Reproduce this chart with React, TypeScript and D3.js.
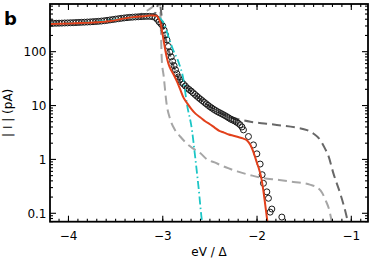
import React from "react";
import * as d3 from "d3";

// measured current (circles)
const measured: [number, number][] = [
  [-4.19, 335], [-4.16, 336], [-4.13, 337], [-4.10, 338], [-4.07, 339], [-4.04, 341],
  [-4.01, 342], [-3.98, 344], [-3.95, 345], [-3.92, 347], [-3.89, 349], [-3.86, 351],
  [-3.83, 353], [-3.80, 355], [-3.77, 357], [-3.74, 360], [-3.71, 363], [-3.68, 366],
  [-3.65, 370], [-3.62, 375], [-3.59, 381], [-3.56, 388], [-3.53, 395], [-3.50, 402],
  [-3.47, 409], [-3.44, 416], [-3.41, 422], [-3.38, 428], [-3.35, 433], [-3.32, 437],
  [-3.29, 441], [-3.26, 444], [-3.23, 447], [-3.20, 450], [-3.17, 452], [-3.14, 452],
  [-3.11, 447], [-3.08, 432], [-3.06, 400], [-3.04, 360], [-3.02, 330], [-3.00, 300],
  [-2.985, 250], [-2.97, 205], [-2.955, 165], [-2.94, 125], [-2.925, 98], [-2.91, 80],
  [-2.895, 66], [-2.88, 55], [-2.865, 46], [-2.85, 39], [-2.835, 34], [-2.82, 30],
  [-2.80, 27], [-2.78, 25], [-2.76, 23], [-2.74, 21], [-2.72, 19.8], [-2.70, 18.6],
  [-2.68, 17.3], [-2.66, 16.1], [-2.64, 15.0], [-2.62, 14.0], [-2.60, 13.1], [-2.58, 12.3],
  [-2.56, 11.5], [-2.54, 10.8], [-2.52, 10.1], [-2.50, 9.5], [-2.48, 9.0], [-2.46, 8.5],
  [-2.44, 8.1], [-2.42, 7.7], [-2.40, 7.4], [-2.38, 7.1], [-2.36, 6.8], [-2.34, 6.5],
  [-2.32, 6.2], [-2.30, 5.9], [-2.28, 5.6], [-2.26, 5.4], [-2.24, 5.2], [-2.22, 4.95],
  [-2.20, 4.7], [-2.18, 4.4], [-2.16, 4.0], [-2.144, 3.53], [-2.091, 2.66], [-2.038, 1.86],
  [-2.002, 1.27], [-1.967, 0.82], [-1.946, 0.52], [-1.932, 0.36], [-1.896, 0.25],
  [-1.879, 0.19], [-1.843, 0.12], [-1.861, 0.105], [-1.737, 0.085],
];

// full model (red)
const fitRed: [number, number][] = [
  [-4.19, 325], [-4.0, 333], [-3.8, 345], [-3.6, 362], [-3.5, 385], [-3.4, 415],
  [-3.3, 440], [-3.2, 455], [-3.12, 468], [-3.07, 465], [-3.04, 400], [-3.02, 320],
  [-3.0, 200], [-2.98, 125], [-2.96, 82], [-2.94, 60], [-2.91, 45], [-2.88, 36],
  [-2.85, 28], [-2.82, 21], [-2.78, 14], [-2.74, 11], [-2.70, 8.8], [-2.65, 7.0],
  [-2.60, 6.0], [-2.55, 5.1], [-2.50, 4.5], [-2.45, 3.9], [-2.40, 3.4], [-2.35, 3.15],
  [-2.30, 2.9], [-2.25, 2.75], [-2.20, 2.6], [-2.15, 2.45], [-2.10, 2.2], [-2.07, 1.85],
  [-2.04, 1.4], [-2.02, 1.1], [-2.0, 0.85], [-1.98, 0.67], [-1.96, 0.5], [-1.94, 0.32],
  [-1.92, 0.18], [-1.90, 0.095], [-1.89, 0.07],
];

// dash-dot (cyan)
const fitCyan: [number, number][] = [
  [-4.19, 330], [-3.8, 348], [-3.5, 395], [-3.3, 435], [-3.15, 455], [-3.06, 450],
  [-3.02, 400], [-2.99, 340], [-2.94, 190], [-2.89, 108], [-2.83, 62], [-2.78, 30],
  [-2.745, 11], [-2.69, 3.5], [-2.656, 1.1], [-2.62, 0.3], [-2.585, 0.075], [-2.575, 0.06],
];

// dashed, dark grey
const fitDark: [number, number][] = [
  [-4.19, 332], [-3.8, 352], [-3.5, 398], [-3.3, 436], [-3.15, 455], [-3.08, 520],
  [-3.05, 760], [-3.035, 900], [-3.02, 600], [-3.0, 300], [-2.97, 180], [-2.93, 95],
  [-2.88, 50], [-2.82, 29], [-2.75, 22], [-2.65, 15.5], [-2.55, 11], [-2.45, 8.4],
  [-2.39, 7.3], [-2.3, 6.3], [-2.2, 5.6], [-2.07, 5.0], [-1.9, 4.6], [-1.79, 4.37],
  [-1.58, 3.9], [-1.47, 3.5], [-1.40, 3.0], [-1.33, 2.3], [-1.28, 1.6], [-1.24, 1.13],
  [-1.19, 0.55], [-1.12, 0.24], [-1.05, 0.087], [-1.03, 0.06],
];

// dashed, light grey
const fitLight: [number, number][] = [
  [-4.19, 330], [-3.6, 365], [-3.4, 420], [-3.3, 450], [-3.21, 520], [-3.15, 600],
  [-3.10, 700], [-3.06, 900], [-3.03, 800], [-3.01, 70], [-2.99, 35], [-2.96, 11],
  [-2.92, 5.5], [-2.87, 3.5], [-2.815, 2.66], [-2.75, 2.0], [-2.68, 1.6], [-2.6, 1.3],
  [-2.53, 1.0], [-2.45, 0.88], [-2.39, 0.79], [-2.3, 0.68], [-2.21, 0.6], [-2.05, 0.5],
  [-1.93, 0.45], [-1.79, 0.42], [-1.65, 0.39], [-1.44, 0.34], [-1.36, 0.3], [-1.31, 0.24],
  [-1.27, 0.17], [-1.24, 0.125], [-1.207, 0.07], [-1.19, 0.05],
];

const xTicks = [-4, -3, -2, -1];
const yTicks = [0.1, 1, 10, 100];
const yTickLabels = ["0.1", "1", "10", "100"];

const W = 374;
const H = 262;
const left = 50, right = 368, top = 4, bottom = 221.7;
const font = "DejaVu Sans";

export default function App() {
  const x = d3.scaleLinear().domain([-4.196, -0.823]).range([left, right]);
  const y = d3.scaleLog().domain([0.0698, 767]).range([bottom, top]);

  const line = d3
    .line<[number, number]>()
    .x((d) => x(d[0]))
    .y((d) => y(d[1]))
    .curve(d3.curveMonotoneX);

  const xMinor = d3.range(-41, -8).map((v) => v / 10).filter((v) => x(v) > left && x(v) < right);
  const yMinor: number[] = [];
  [0.01, 0.1, 1, 10, 100].forEach((p) => {
    for (let k = 2; k <= 9; k++) {
      const v = p * k;
      if (v > 0.0698 && v < 767) yMinor.push(v);
    }
  });

  const major = 6, minor = 3;

  return (
    <svg width={W} height={H} style={{ position: "absolute", left: 0, top: 0 }} fontFamily={font}>
      <defs>
        <clipPath id="plot">
          <rect x={left} y={top} width={right - left} height={bottom - top} />
        </clipPath>
      </defs>
      <g clipPath="url(#plot)" fill="none">
        <path d={line(fitLight) || ""} stroke="#a6a6a6" strokeWidth={2} strokeDasharray="9,5" />
        <path d={line(fitDark) || ""} stroke="#686868" strokeWidth={2} strokeDasharray="9,5" />
        {measured.map((d, i) => (
          <circle key={i} cx={x(d[0])} cy={y(d[1])} r={3} stroke="#1a1a1a" strokeWidth={1} />
        ))}
        <path d={line(fitCyan) || ""} stroke="#1cc6c6" strokeWidth={1.8} strokeDasharray="8,3,1.5,3" />
        <path d={line(fitRed) || ""} stroke="#e2401b" strokeWidth={2} />
      </g>

      {/* ticks */}
      <g stroke="#000" strokeWidth={1.1}>
        {xTicks.map((t) => (
          <g key={"xt" + t}>
            <line x1={x(t)} x2={x(t)} y1={bottom} y2={bottom - major} />
            <line x1={x(t)} x2={x(t)} y1={top} y2={top + major} />
          </g>
        ))}
        {xMinor.map((t) => (
          <g key={"xm" + t}>
            <line x1={x(t)} x2={x(t)} y1={bottom} y2={bottom - minor} />
            <line x1={x(t)} x2={x(t)} y1={top} y2={top + minor} />
          </g>
        ))}
        {yTicks.map((t) => (
          <g key={"yt" + t}>
            <line x1={left} x2={left + major} y1={y(t)} y2={y(t)} />
            <line x1={right} x2={right - major} y1={y(t)} y2={y(t)} />
          </g>
        ))}
        {yMinor.map((t) => (
          <g key={"ym" + t}>
            <line x1={left} x2={left + minor} y1={y(t)} y2={y(t)} />
            <line x1={right} x2={right - minor} y1={y(t)} y2={y(t)} />
          </g>
        ))}
      </g>
      <rect x={left} y={top} width={right - left} height={bottom - top} fill="none" stroke="#000" strokeWidth={1.8} />

      {/* tick labels */}
      {xTicks.map((t) => (
        <text key={"xl" + t} x={x(t)} y={240} textAnchor="middle" fontSize={12}>
          {"\u2212" + Math.abs(t)}
        </text>
      ))}
      {yTicks.map((t, i) => (
        <text key={"yl" + t} x={46.5} y={y(t) + 4.3} textAnchor="end" fontSize={12}>
          {yTickLabels[i]}
        </text>
      ))}

      <text x={(left + right) / 2} y={256} textAnchor="middle" fontSize={12}>
        eV / Δ
      </text>
      <text transform={`translate(12,${(top + bottom) / 2}) rotate(-90)`} textAnchor="middle" fontSize={12}>
        | I | (pA)
      </text>
      <text x={4} y={25} fontSize={18} fontWeight="bold">
        b
      </text>
    </svg>
  );
}
